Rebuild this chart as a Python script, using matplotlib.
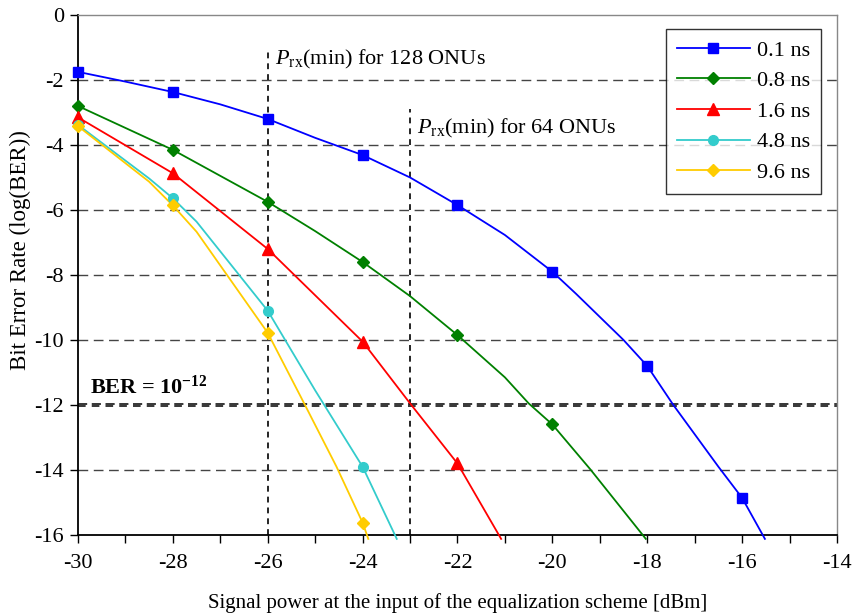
import matplotlib
matplotlib.use("Agg")
import matplotlib.pyplot as plt
from matplotlib.ticker import MultipleLocator

plt.rcParams['font.family'] = ['Liberation Serif', 'DejaVu Serif']
plt.rcParams['mathtext.fontset'] = 'custom'
plt.rcParams['mathtext.rm'] = 'Liberation Serif'
plt.rcParams['mathtext.it'] = 'Liberation Serif:italic'
plt.rcParams['mathtext.bf'] = 'Liberation Serif:bold'
plt.rcParams['axes.unicode_minus'] = False

labels = ["0.1 ns", "0.8 ns", "1.6 ns", "4.8 ns", "9.6 ns"]
colors = ["#0000FF", "#008000", "#FF0000", "#33CCCC", "#FFCC00"]
markers = ["s", "D", "^", "o", "D"]
marker_sizes = [7, 6, 8, 7, 6.5]

# measured points (shown with markers)
mark_x = [-30, -28, -26, -24, -22, -20, -18, -16]
mark_y = [
    [-1.75, -2.37, -3.2, -4.31, -5.85, -7.9, -10.8, -14.86],
    [-2.8, -4.15, -5.75, -7.6, -9.85, -12.6],
    [-3.15, -4.87, -7.2, -10.05, -13.8],
    [-3.38, -5.64, -9.1, -13.9],
    [-3.42, -5.86, -9.78, -15.62],
]

# traced curves between the measured points
curve_x = [
    [-30, -29, -28, -27, -26, -25, -24, -23, -22, -21, -20, -19.5, -18.5, -18, -17.45, -16.5, -16, -15.52],
    [-30, -28, -26, -25, -24, -23, -22, -21, -20.5, -20, -19.2, -18.03],
    [-30, -28, -26, -24, -23, -22, -21.08],
    [-30, -28.5, -28, -27.5, -26, -25, -24, -23.28],
    [-30, -28.5, -28, -27.5, -26, -25.25, -24.55, -24, -23.88],
]
curve_y = [
    [-1.75, -2.05, -2.37, -2.75, -3.2, -3.78, -4.31, -5.0, -5.85, -6.77, -7.9, -8.58, -10.0, -10.8, -12.0, -13.9, -14.86, -16.12],
    [-2.8, -4.15, -5.75, -6.65, -7.6, -8.65, -9.85, -11.15, -11.95, -12.6, -13.98, -16.12],
    [-3.15, -4.87, -7.2, -10.05, -11.95, -13.8, -16.12],
    [-3.38, -5.03, -5.64, -6.36, -9.1, -11.55, -13.9, -16.12],
    [-3.42, -5.13, -5.86, -6.67, -9.78, -11.9, -13.9, -15.62, -16.12],
]

fig = plt.figure(figsize=(8.52, 6.14), dpi=100)
ax = fig.add_axes([0.0915, 0.1287, 0.8909, 0.8469])

# horizontal grid
for yv in [-2, -4, -6, -8, -10, -14]:
    ax.axhline(yv, color="#444444", lw=1.0, dashes=(7, 4), zorder=1)
# BER = 1e-12 threshold (doubled dashed line)
ax.axhline(-11.97, color="black", lw=1.1, dashes=(6, 3), zorder=2)
ax.axhline(-12.02, color="black", lw=1.1, dashes=(5, 4), zorder=2)

# Prx(min) markers
ax.vlines(-26, -16, -1.15, colors="black", lw=1.2, linestyles=(0, (3.5, 3)), zorder=2)
ax.vlines(-23, -16, -2.9, colors="black", lw=1.2, linestyles=(0, (3.5, 3)), zorder=2)

for i in range(len(labels)):
    ax.plot(curve_x[i], curve_y[i], color=colors[i], lw=1.3, zorder=3, clip_on=False)
    n = len(mark_y[i])
    ax.plot(mark_x[:n], mark_y[i], linestyle="none", marker=markers[i],
            ms=marker_sizes[i], color=colors[i], zorder=4, clip_on=False)

# legend proxies
handles = []
for i in range(len(labels)):
    h, = ax.plot([], [], color=colors[i], lw=1.3, marker=markers[i],
                 ms=marker_sizes[i])
    handles.append(h)
leg = ax.legend(handles, labels, loc="upper right", bbox_to_anchor=(0.979, 0.973),
                fontsize=16, frameon=True, fancybox=False, edgecolor="black",
                handlelength=3.3, handletextpad=0.3, labelspacing=0.45,
                borderpad=0.5, borderaxespad=0.0)
leg.get_frame().set_linewidth(1.0)

ax.text(-25.85, -1.38, r"$\it{P}$$_{\rm rx}$(min) for 128 ONUs", fontsize=16,
        va="center", ha="left")
ax.text(-22.85, -3.48, r"$\it{P}$$_{\rm rx}$(min) for 64 ONUs", fontsize=16,
        va="center", ha="left")
ax.text(-29.75, -11.45, r"BER = 10$^{\mathbf{-12}}$", fontsize=16,
        fontweight="bold", va="center", ha="left")

ax.set_xlim(-30, -14)
ax.set_ylim(-16, 0)
ax.xaxis.set_major_locator(MultipleLocator(2))
ax.xaxis.set_minor_locator(MultipleLocator(1))
ax.yaxis.set_major_locator(MultipleLocator(2))
ax.tick_params(axis="both", which="both", direction="out", labelsize=16,
               color="black")
ax.tick_params(axis="both", which="major", length=6, width=1.0)
ax.tick_params(axis="x", which="minor", length=6, width=1.0)
ax.tick_params(axis="x", pad=8)
ax.tick_params(axis="y", pad=4)

for side in ["left", "bottom"]:
    ax.spines[side].set_color("black")
    ax.spines[side].set_linewidth(1.3)
for side in ["top", "right"]:
    ax.spines[side].set_color("#888888")
    ax.spines[side].set_linewidth(1.0)

ax.set_xlabel("Signal power at the input of the equalization scheme [dBm]",
              fontsize=15, labelpad=14)
ax.set_ylabel("Bit Error Rate (log(BER))", fontsize=16.5)
ax.yaxis.set_label_coords(-0.062, 0.548)

fig.savefig("out.png", dpi=100)
